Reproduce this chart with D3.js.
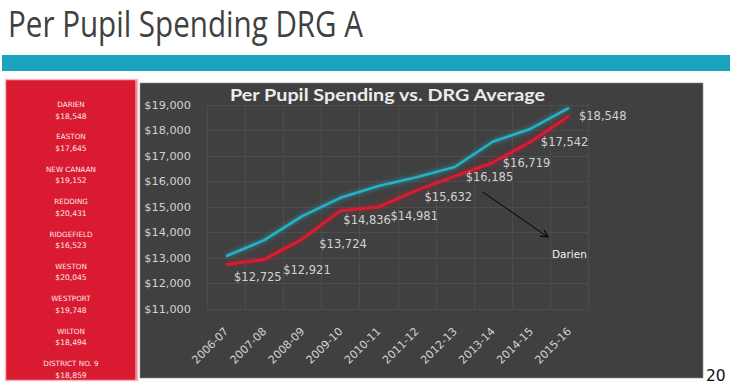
<!DOCTYPE html>
<html>
<head>
<meta charset="utf-8">
<script src="https://cdn.jsdelivr.net/npm/d3@7"></script>
<style>
  html, body { margin: 0; padding: 0; background: #ffffff; }
  svg { display: block; }
</style>
</head>
<body>
<svg id="chart" width="730" height="389"></svg>
<script>
// ---- data ----
const years = ["2006-07","2007-08","2008-09","2009-10","2010-11","2011-12","2012-13","2013-14","2014-15","2015-16"];
const darien = [12725, 12921, 13724, 14836, 14981, 15632, 16185, 16719, 17542, 18548];
const drgAverage = [13050, 13680, 14620, 15340, 15800, 16150, 16550, 17540, 18050, 18870];
const yTicks = [11000, 12000, 13000, 14000, 15000, 16000, 17000, 18000, 19000];
const districts = ["DARIEN","EASTON","NEW CANAAN","REDDING","RIDGEFIELD","WESTON","WESTPORT","WILTON","DISTRICT NO. 9"];
const districtSpending = [18548, 17645, 19152, 20431, 16523, 20045, 19748, 18494, 18859];
const pageTitle = "Per Pupil Spending DRG A";
const chartTitle = "Per Pupil Spending vs. DRG Average";
const annotationText = "Darien";
const pageNumber = "20";

// ---- drawing ----
const svg = d3.select("#chart");
const money = d3.format("$,");

const defs = svg.append("defs");
function glow(id) {
  const f = defs.append("filter").attr("id", id)
    .attr("x", "-20%").attr("y", "-20%").attr("width", "140%").attr("height", "140%");
  f.append("feGaussianBlur").attr("in", "SourceGraphic").attr("stdDeviation", 2.5).attr("result", "b");
  f.append("feComponentTransfer").attr("in", "b").attr("result", "bf")
    .append("feFuncA").attr("type", "linear").attr("slope", 0.7);
  const m = f.append("feMerge");
  m.append("feMergeNode").attr("in", "bf");
  m.append("feMergeNode").attr("in", "SourceGraphic");
}
glow("glowTeal");
glow("glowRed");
defs.append("marker").attr("id", "arrow")
  .attr("viewBox", "0 0 10 10").attr("refX", 9).attr("refY", 5)
  .attr("markerWidth", 9).attr("markerHeight", 9).attr("orient", "auto")
  .append("path").attr("d", "M1,1 L9,5 L1,9").attr("fill", "none")
  .attr("stroke", "#000").attr("stroke-width", 1.2);

// page title
svg.append("text").attr("x", 8).attr("y", 37)
  .attr("font-family", "'Liberation Sans Narrow', 'Open Sans', sans-serif")
  .attr("font-size", 36).attr("fill", "#404040")
  .attr("textLength", 355).attr("lengthAdjust", "spacingAndGlyphs")
  .text(pageTitle);

// teal band
svg.append("rect").attr("x", 2).attr("y", 55).attr("width", 728).attr("height", 16).attr("fill", "#19a3bd");

// red side box
svg.append("rect").attr("x", 5.5).attr("y", 79.5).attr("width", 132).attr("height", 301)
  .attr("fill", "#da1a30").attr("stroke", "#f3b7bd").attr("stroke-width", 1.5);
svg.append("line").attr("x1", 136).attr("x2", 136).attr("y1", 80).attr("y2", 380)
  .attr("stroke", "#f7d8db").attr("stroke-width", 1);

const sideY = d3.scalePoint().domain(districts).range([104, 363]);
const sideG = svg.append("g").attr("font-family", "'DejaVu Sans', sans-serif")
  .attr("fill", "#fbe9eb").attr("text-anchor", "middle");
districts.forEach((d, i) => {
  sideG.append("text").attr("x", 71).attr("y", sideY(d) + 3).attr("font-size", 7.2).text(d);
  sideG.append("text").attr("x", 71).attr("y", sideY(d) + 14.5).attr("font-size", 7.6).text(money(districtSpending[i]));
});

// chart panel
svg.append("rect").attr("x", 140).attr("y", 83).attr("width", 563).attr("height", 295)
  .attr("fill", "#404040").attr("stroke", "#8a8a8a").attr("stroke-width", 0.6);

const x = d3.scaleBand().domain(years).range([207, 588]);
const y = d3.scaleLinear().domain([11000, 19000]).range([308.5, 104.5]);

// gridlines
const grid = svg.append("g").attr("stroke", "#4c4c4c").attr("stroke-width", 1);
yTicks.forEach(t => grid.append("line").attr("x1", 207).attr("x2", 588)
  .attr("y1", Math.round(y(t)) + 0.5).attr("y2", Math.round(y(t)) + 0.5));
years.concat([null]).forEach((yr) => {
  const xx = yr ? x(yr) : x.range()[1];
  grid.append("line").attr("x1", Math.round(xx) + 0.5).attr("x2", Math.round(xx) + 0.5)
    .attr("y1", y(19000)).attr("y2", y(11000));
});

// chart title
svg.append("text").attr("x", 230).attr("y", 101)
  .attr("font-family", "Lato, 'DejaVu Sans', sans-serif").attr("font-weight", "bold")
  .attr("font-size", 17.5).attr("fill", "#ececec")
  .attr("textLength", 315).attr("lengthAdjust", "spacingAndGlyphs")
  .text(chartTitle);

// y axis
const yAxis = svg.append("g").attr("transform", "translate(191,0)")
  .call(d3.axisLeft(y).tickValues(yTicks).tickFormat(money).tickSize(0).tickPadding(0));
yAxis.select(".domain").remove();
yAxis.selectAll("text").attr("font-family", "'DejaVu Sans', sans-serif")
  .attr("font-size", 11.3).attr("fill", "#d2d2d2");

// x axis
const xAxis = svg.append("g").attr("transform", "translate(0,332)")
  .call(d3.axisBottom(x).tickSize(0).tickPadding(0));
xAxis.select(".domain").remove();
xAxis.selectAll("text")
  .attr("font-family", "'DejaVu Sans', sans-serif").attr("font-size", 11)
  .attr("fill", "#d2d2d2").attr("text-anchor", "end")
  .attr("dy", 0).attr("y", 0).attr("x", 0)
  .attr("transform", "translate(3,0) rotate(-45)");

// lines
const line = d3.line().x((d, i) => x(years[i]) + x.bandwidth() / 2).y(d => y(d));
svg.append("path").datum(drgAverage).attr("d", line)
  .attr("fill", "none").attr("stroke", "#22b3c8").attr("stroke-width", 2.6)
  .attr("stroke-linejoin", "round").attr("filter", "url(#glowTeal)");
svg.append("path").datum(darien).attr("d", line)
  .attr("fill", "none").attr("stroke", "#e5172f").attr("stroke-width", 2.6)
  .attr("stroke-linejoin", "round").attr("filter", "url(#glowRed)");

// data labels for Darien
const labelOffset = [[8, 12], [19, 10], [17, 4.5], [3, 9.5], [12, 9], [8, 6.4], [11, 0.5], [10, 0], [10, 0], [10, 0]];
svg.append("g").selectAll("text").data(darien).join("text")
  .attr("x", (d, i) => x(years[i]) + x.bandwidth() / 2 + labelOffset[i][0])
  .attr("y", (d, i) => y(d) + labelOffset[i][1])
  .attr("dy", "0.36em")
  .attr("font-family", "'DejaVu Sans', sans-serif").attr("font-size", 11.5)
  .attr("fill", "#d2d2d2")
  .text(d => money(d));

// annotation arrow
const cx = yr => x(yr) + x.bandwidth() / 2;
svg.append("line")
  .attr("x1", cx("2013-14") - 10).attr("y1", y(15570))
  .attr("x2", cx("2015-16") - 21).attr("y2", y(13800))
  .attr("stroke", "#000").attr("stroke-width", 1).attr("marker-end", "url(#arrow)");
svg.append("text").attr("x", cx("2015-16") - 17).attr("y", y(12980))
  .attr("font-family", "'DejaVu Sans', sans-serif").attr("font-size", 10.5)
  .attr("fill", "#f2f2f2").text(annotationText);

// page number
svg.append("text").attr("x", 706).attr("y", 381)
  .attr("font-family", "'DejaVu Sans', sans-serif").attr("font-size", 15.5)
  .attr("fill", "#111").text(pageNumber);
</script>
</body>
</html>
